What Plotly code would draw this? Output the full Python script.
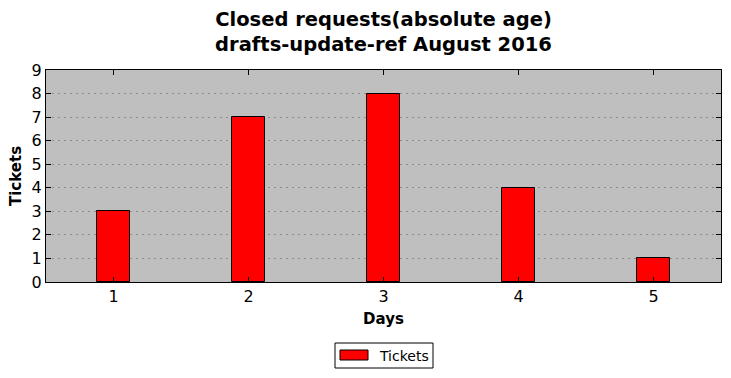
import plotly.graph_objects as go

days = [1, 2, 3, 4, 5]
tickets = [3, 7, 8, 4, 1]
y_ticks = list(range(0, 10))
series_name = "Tickets"

fig = go.Figure()
fig.add_trace(go.Bar(
    x=days, y=tickets, name=series_name, width=0.25, showlegend=False,
    marker=dict(color="#ff0000", line=dict(color="black", width=1)),
))

# Legend drawn as box + swatch + text (matplotlib style wide swatch)
fig.add_shape(type="rect", xref="paper", yref="paper",
              x0=(335 - 46) / 675, x1=(433 - 46) / 675,
              y0=(282 - 368) / 212, y1=(282 - 343) / 212,
              line=dict(color="black", width=1), fillcolor="white", layer="above")
fig.add_shape(type="rect", xref="paper", yref="paper",
              x0=(340 - 46) / 675, x1=(368 - 46) / 675,
              y0=(282 - 360) / 212, y1=(282 - 350) / 212,
              line=dict(color="black", width=1), fillcolor="#ff0000", layer="above")
fig.add_annotation(text=series_name, xref="paper", yref="paper",
                   x=(377 - 46) / 675, xanchor="left",
                   y=(282 - 355.5) / 212, yanchor="middle",
                   showarrow=False, font=dict(size=14, family="DejaVu Sans", color="black"))

fig.update_layout(
    width=731, height=378,
    margin=dict(l=46, r=10, t=70, b=96),
    paper_bgcolor="white", plot_bgcolor="#bfbfbf",
    font=dict(family="DejaVu Sans", color="black"),
    title=dict(
        text="<b>Closed requests(absolute age)<br>drafts-update-ref August 2016</b>",
        x=0.5, xref="paper", xanchor="center",
        y=1 - 26 / 378, yref="container", yanchor="middle",
        font=dict(size=19.5, family="DejaVu Sans"),
    ),
    showlegend=False,
    xaxis=dict(
        range=[0.5, 5.5], tickvals=days, ticktext=[str(d) for d in days],
        ticks="inside", ticklen=5, tickcolor="black",
        showline=True, linecolor="black", linewidth=1, mirror="ticks",
        showgrid=False, zeroline=False,
        tickfont=dict(size=16),
        title=dict(text="<b>Days</b>", font=dict(size=15), standoff=8),
    ),
    yaxis=dict(
        range=[0, 9], tickvals=y_ticks,
        ticks="inside", ticklen=5, tickcolor="black",
        showline=True, linecolor="black", linewidth=1, mirror="ticks",
        showgrid=True, gridcolor="#8c8c8c", griddash="2px,4px", gridwidth=1,
        zeroline=False,
        tickfont=dict(size=16),
        title=dict(text="<b>Tickets</b>", font=dict(size=15), standoff=6),
    ),
    bargap=0,
)

fig.write_html("out.html")
